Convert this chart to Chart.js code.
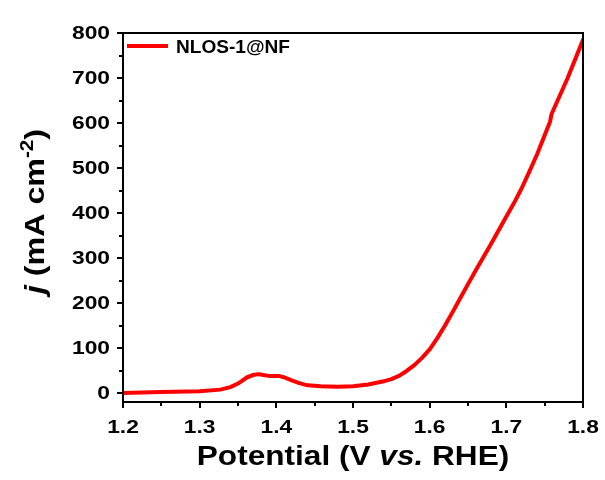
<!DOCTYPE html>
<html>
<head>
<meta charset="utf-8">
<script src="https://cdn.jsdelivr.net/npm/chart.js@4/dist/chart.umd.min.js"></script>
<style>
  html, body { margin: 0; padding: 0; background: #fff; }
  #wrap { width: 605px; height: 480px; }
</style>
</head>
<body>
<div id="wrap"><canvas id="lsv" width="605" height="480"></canvas></div>
<script>
// LSV curve
const potential = [1.20, 1.25, 1.30, 1.327, 1.34, 1.35, 1.362, 1.37, 1.377, 1.383, 1.39, 1.403, 1.41, 1.42, 1.43, 1.441, 1.458, 1.48, 1.50, 1.52, 1.54, 1.55, 1.56, 1.57, 1.58, 1.59, 1.60, 1.61, 1.62, 1.63, 1.64, 1.65, 1.66, 1.68, 1.70, 1.71, 1.72, 1.73, 1.74, 1.757, 1.759, 1.78, 1.80];
const current   = [0, 2, 4, 7.5, 13, 21, 35, 40, 42, 40, 38, 38, 35, 28, 22, 17, 15, 14, 15, 19, 26, 31, 38, 49, 62, 78, 97, 122, 150, 180, 211, 242, 272, 331, 392, 422, 455, 492, 530, 603, 620, 700, 785];
const seriesName = 'NLOS-1@NF';

// axis ticks
const xTicks = [1.2, 1.3, 1.4, 1.5, 1.6, 1.7, 1.8];
const yTicks = [0, 100, 200, 300, 400, 500, 600, 700, 800];

const FONT = '"Liberation Sans", Arial, sans-serif';

// text in the reference is drawn a bit wide, so stretch along the writing direction
function drawParts(ctx, parts, x, y, align, sx) {
  let w = 0;
  parts.forEach(p => { ctx.font = p.font; w += ctx.measureText(p.text).width; });
  ctx.save();
  ctx.translate(x, y);
  ctx.scale(sx, 1);
  let cx = align === 'center' ? -w / 2 : align === 'right' ? -w : 0;
  ctx.textAlign = 'left';
  parts.forEach(p => {
    ctx.font = p.font;
    ctx.fillText(p.text, cx, p.dy || 0);
    cx += ctx.measureText(p.text).width;
  });
  ctx.restore();
}

// box, ticks, minor ticks, tick labels, legend and the two axis titles
const frame = {
  id: 'frame',
  afterDraw(chart) {
    const ctx = chart.ctx;
    const a = chart.chartArea;
    const xs = chart.scales.x, ys = chart.scales.y;
    ctx.save();
    ctx.strokeStyle = '#000';
    ctx.fillStyle = '#000';
    ctx.lineWidth = 2;
    ctx.strokeRect(a.left, a.top, a.right - a.left, a.bottom - a.top);

    ctx.beginPath();
    xTicks.forEach((v, i) => {
      const px = Math.round(xs.getPixelForValue(v));
      ctx.moveTo(px, a.bottom); ctx.lineTo(px, a.bottom + 6);
      if (i < xTicks.length - 1) {
        const mx = Math.round(xs.getPixelForValue((v + xTicks[i + 1]) / 2));
        ctx.moveTo(mx, a.bottom); ctx.lineTo(mx, a.bottom + 4);
      }
    });
    yTicks.forEach((v, i) => {
      const py = Math.round(ys.getPixelForValue(v));
      ctx.moveTo(a.left, py); ctx.lineTo(a.left - 6, py);
      if (i < yTicks.length - 1) {
        const my = Math.round(ys.getPixelForValue((v + yTicks[i + 1]) / 2));
        ctx.moveTo(a.left, my); ctx.lineTo(a.left - 4, my);
      }
    });
    ctx.stroke();

    // tick labels
    const tickFont = 'bold 19px ' + FONT;
    ctx.textBaseline = 'alphabetic';
    xTicks.forEach(v => {
      drawParts(ctx, [{ font: tickFont, text: v.toFixed(1) }], xs.getPixelForValue(v), a.bottom + 31, 'center', 1.2);
    });
    ctx.textBaseline = 'middle';
    yTicks.forEach(v => {
      drawParts(ctx, [{ font: tickFont, text: String(v) }], a.left - 13, ys.getPixelForValue(v) + 1, 'right', 1.2);
    });

    // legend
    ctx.strokeStyle = '#ff0000';
    ctx.lineWidth = 4;
    ctx.beginPath();
    ctx.moveTo(a.left + 4, a.top + 13);
    ctx.lineTo(a.left + 45, a.top + 13);
    ctx.stroke();
    ctx.textBaseline = 'alphabetic';
    drawParts(ctx, [{ font: 'bold 17.5px ' + FONT, text: chart.data.datasets[0].label }], a.left + 53, a.top + 20, 'left', 1.09);

    // x title
    drawParts(ctx, [
      { font: 'bold 27px ' + FONT, text: 'Potential (V ' },
      { font: 'italic bold 27px ' + FONT, text: 'vs.' },
      { font: 'bold 27px ' + FONT, text: ' RHE)' }
    ], (a.left + a.right) / 2, 465, 'center', 1.17);

    // y title, rotated
    ctx.save();
    ctx.translate(44, (a.top + a.bottom) / 2 - 6);
    ctx.rotate(-Math.PI / 2);
    drawParts(ctx, [
      { font: 'italic bold 28px ' + FONT, text: 'j' },
      { font: 'bold 28px ' + FONT, text: ' (mA cm' },
      { font: 'bold 18px ' + FONT, text: '-2', dy: -11 },
      { font: 'bold 28px ' + FONT, text: ')' }
    ], 0, 0, 'center', 1.15);
    ctx.restore();
    ctx.restore();
  }
};

new Chart(document.getElementById('lsv'), {
  type: 'line',
  data: {
    datasets: [{
      label: seriesName,
      data: potential.map((v, i) => ({ x: v, y: current[i] })),
      borderColor: '#ff0000',
      borderWidth: 4,
      borderJoinStyle: 'round',
      borderCapStyle: 'round',
      pointRadius: 0,
      tension: 0,
      fill: false
    }]
  },
  options: {
    responsive: false,
    animation: false,
    devicePixelRatio: 1,
    layout: { padding: { top: 33, right: 22, left: 0, bottom: 0 } },
    plugins: { legend: { display: false }, tooltip: { enabled: false } },
    scales: {
      x: {
        type: 'linear',
        min: 1.2,
        max: 1.8,
        afterBuildTicks: s => { s.ticks = xTicks.map(v => ({ value: v })); },
        afterFit: s => { s.height = 78; },
        grid: { display: false, drawTicks: false },
        border: { display: false },
        ticks: { display: false }
      },
      y: {
        min: -20,
        max: 800,
        afterBuildTicks: s => { s.ticks = yTicks.map(v => ({ value: v })); },
        afterFit: s => { s.width = 123; },
        grid: { display: false, drawTicks: false },
        border: { display: false },
        ticks: { display: false }
      }
    }
  },
  plugins: [frame]
});
</script>
</body>
</html>
